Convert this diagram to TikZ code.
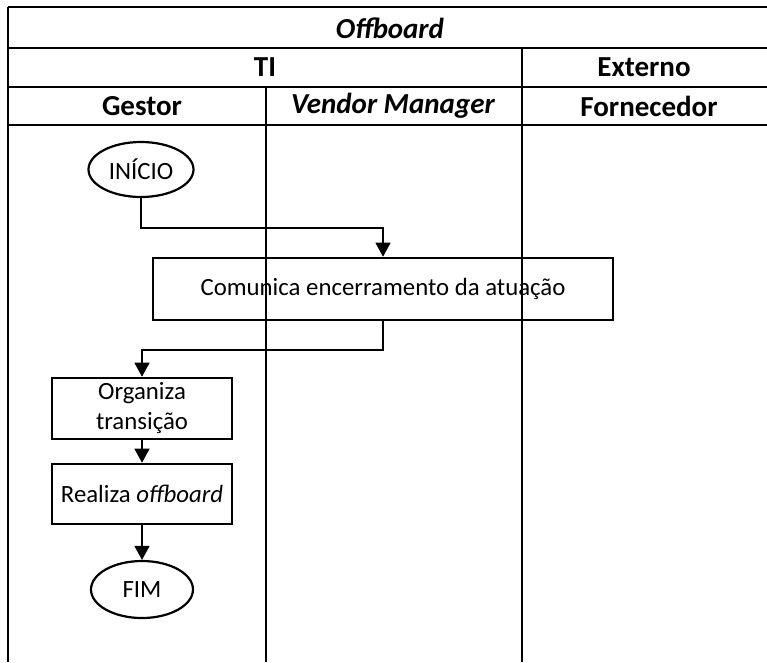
\documentclass[tikz,border=0pt]{standalone}
\usepackage{fontspec}
\setmainfont{Carlito}
\usetikzlibrary{arrows.meta,shapes.geometric}
\begin{document}
\begin{tikzpicture}[x=1pt,y=-1pt,
  lane/.style={line width=2.6pt},
  head/.style={font=\fontsize{29}{33}\selectfont\bfseries},
  proc/.style={draw,line width=2.6pt,inner sep=0pt,align=center,
    font=\fontsize{24.8}{30}\selectfont},
  term/.style={draw,ellipse,line width=2.2pt,inner sep=0pt,
    font=\fontsize{24.8}{30}\selectfont},
  flow/.style={line width=1.3pt,-{Triangle[length=14pt,width=15pt]}}]
\useasboundingbox (0,0) rectangle (767,662);

% swimlane grid
\draw[lane] (8,7) -- (767,7);
\draw[lane] (8,48) -- (767,48);
\draw[lane] (8,87) -- (767,87);
\draw[lane] (8,125) -- (767,125);
\draw[lane] (8,7) -- (8,662);
\draw[lane] (522,48) -- (522,662);
\draw[lane] (266,87) -- (266,662);

% header labels
\node[head] (hTitle) at (390,28) {\itshape Offboard};
\node[head] (hTI) at (265,67.5) {TI};
\node[head] (hExt) at (644,67.5) {Externo};
\node[head] (hGestor) at (142,106) {Gestor};
\node[head] (hVM) at (393,106) {\itshape Vendor Manager};
\node[head] (hForn) at (649,106) {Fornecedor};

% flow nodes
\node[term,minimum width=105pt,minimum height=55pt] (start) at (141,169.5) {INÍCIO};
\node[proc,minimum width=460pt,minimum height=62pt] (comm) at (383,289) {Comunica encerramento da atuação};
\node[proc,minimum width=180pt,minimum height=61pt] (org) at (142,408.5) {Organiza\\transição};
\node[proc,minimum width=180pt,minimum height=60pt] (real) at (142,494) {Realiza \textit{offboard}};
\node[term,minimum width=102pt,minimum height=57pt] (fim) at (142,589.5) {FIM};

% connectors
\coordinate (b1) at (141,228);
\coordinate (b2) at (383,228);
\draw[flow] (start.south) -- (b1) -- (b2) -- (comm.north);
\coordinate (b3) at (383,350);
\coordinate (b4) at (142,350);
\draw[flow] (comm.south) -- (b3) -- (b4) -- (org.north);
\draw[flow] (org.south) -- (real.north);
\draw[flow] (real.south) -- (fim.north);
\end{tikzpicture}
\end{document}
